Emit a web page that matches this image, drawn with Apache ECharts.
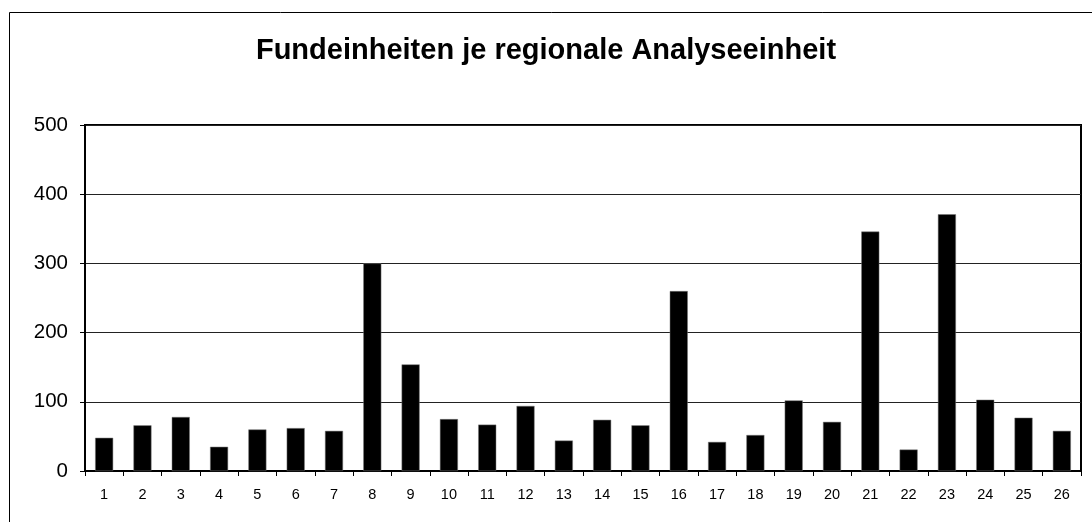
<!DOCTYPE html>
<html>
<head>
<meta charset="utf-8">
<title>Fundeinheiten je regionale Analyseeinheit</title>
<script src="https://cdn.jsdelivr.net/npm/echarts@6/dist/echarts.min.js"></script>
<style>
  html, body { margin: 0; padding: 0; background: #fff; }
  #chart { width: 1092px; height: 522px; }
</style>
</head>
<body>
<div id="chart"></div>
<script>
// Analyseeinheiten 1..26
const categories = ['1', '2', '3', '4', '5', '6', '7', '8', '9', '10', '11', '12', '13',
  '14', '15', '16', '17', '18', '19', '20', '21', '22', '23', '24', '25', '26'];
// Fundeinheiten je Einheit
const fundeinheiten = [48, 66, 78, 35, 60, 62, 58, 300, 154, 75, 67, 94, 44,
  74, 66, 260, 42, 52, 102, 71, 346, 31, 371, 103, 77, 58];
const yTicks = { min: 0, max: 500, interval: 100 };

const chart = echarts.init(document.getElementById('chart'));
const font = '"Liberation Sans", Arial, sans-serif';

const option = {
  backgroundColor: '#fff',
  animation: false,
  title: {
    text: 'Fundeinheiten je regionale Analyseeinheit',
    left: 'center',
    top: 31,
    textStyle: { fontFamily: font, fontSize: 29, fontWeight: 'bold', color: '#000' }
  },
  graphic: [{
    type: 'rect',
    shape: { x: 9.5, y: 12.5, width: 1200, height: 600 },
    style: { fill: 'none', stroke: '#000', lineWidth: 1 },
    silent: true
  }],
  grid: {
    left: 85, right: 11, top: 125, bottom: 51,
    show: true,
    borderColor: '#000',
    borderWidth: 2,
    backgroundColor: 'transparent'
  },
  xAxis: {
    type: 'category',
    data: categories,
    axisLine: { lineStyle: { color: '#000', width: 2 } },
    axisTick: { show: true, interval: 0, length: 5, lineStyle: { color: '#000', width: 1 } },
    axisLabel: { interval: 0, fontFamily: font, fontSize: 14.5, color: '#000', margin: 16 },
    splitLine: { show: false }
  },
  yAxis: {
    type: 'value',
    min: yTicks.min,
    max: yTicks.max,
    interval: yTicks.interval,
    axisLine: { show: true, lineStyle: { color: '#000', width: 2 } },
    axisTick: { show: true, length: 5, lineStyle: { color: '#000', width: 1 } },
    axisLabel: { fontFamily: font, fontSize: 20.5, color: '#000', margin: 17 },
    splitLine: { show: true, lineStyle: { color: '#222', width: 1 } }
  },
  series: [{
    name: 'Fundeinheiten',
    type: 'bar',
    data: fundeinheiten,
    barWidth: 18,
    itemStyle: { color: '#000', borderColor: '#777', borderWidth: 0.5 }
  }]
};

chart.setOption(option);
</script>
</body>
</html>
